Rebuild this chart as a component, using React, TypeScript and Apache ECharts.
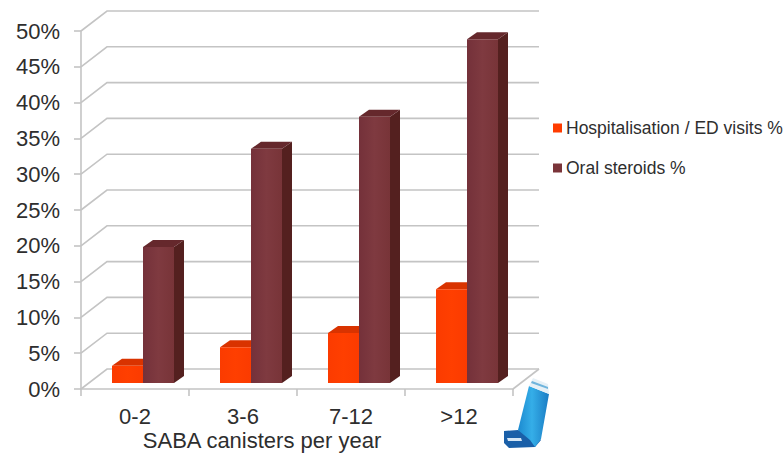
import React, { useEffect, useRef } from "react";
import * as echarts from "echarts";

const categories = ["0-2", "3-6", "7-12", ">12"];
const hospitalisation = [2.4, 5, 7, 13.1];
const oralSteroids = [19, 32.7, 37.2, 48];
const yTicks = [0, 5, 10, 15, 20, 25, 30, 35, 40, 45, 50];

const FONT = '"Liberation Sans", Arial, sans-serif';
const GRID_COLOR = "#c4c4c4";
const TEXT_COLOR = "#2e2e2e";

// Depth of the floor and of the bars, in pixels.
const WALL_DX = 26;
const WALL_DY = -20;
const BAR_DX = 10;
const BAR_DY = -7;
const BAR_WIDTH = 31;
const BAR_LIFT = 6;

type BarPalette = { front: string[]; top: string; side: string };

const orangePalette: BarPalette = {
  front: ["#fb3b00", "#ff3f00", "#fb3b00"],
  top: "#d93300",
  side: "#c22d00",
};
const maroonPalette: BarPalette = {
  front: ["#74313a", "#7f3a40", "#783438"],
  top: "#65282c",
  side: "#54201f",
};

// Draws one extruded bar: front face, top face, right side face.
function barRenderer(palette: BarPalette, startOffset: number) {
  return (_params: any, api: any) => {
    const idx = api.value(0);
    const top = api.coord([idx, api.value(1)]);
    const base = api.coord([idx, 0]);
    const x0 = top[0] + startOffset;
    const x1 = x0 + BAR_WIDTH;
    const yTop = top[1] - BAR_LIFT;
    const yBase = base[1] - BAR_LIFT;
    return {
      type: "group",
      children: [
        {
          type: "polygon",
          shape: {
            points: [
              [x1, yTop],
              [x1 + BAR_DX, yTop + BAR_DY],
              [x1 + BAR_DX, yBase + BAR_DY],
              [x1, yBase],
            ],
          },
          style: { fill: palette.side },
        },
        {
          type: "polygon",
          shape: {
            points: [
              [x0, yTop],
              [x0 + BAR_DX, yTop + BAR_DY],
              [x1 + BAR_DX, yTop + BAR_DY],
              [x1, yTop],
            ],
          },
          style: { fill: palette.top },
        },
        {
          type: "rect",
          shape: { x: x0, y: yTop, width: BAR_WIDTH, height: yBase - yTop },
          style: {
            fill: new echarts.graphic.LinearGradient(0, 0, 1, 0, [
              { offset: 0, color: palette.front[0] },
              { offset: 0.5, color: palette.front[1] },
              { offset: 1, color: palette.front[2] },
            ]),
          },
        },
      ],
    };
  };
}

// Gridline for a tick: runs back across the side wall, then along the rear wall.
function wallRenderer(params: any, api: any) {
  const sys = params.coordSys;
  const y = api.coord([0, api.value(1)])[1];
  const style = { stroke: GRID_COLOR, lineWidth: 1.6, fill: "none" };
  const right = sys.x + sys.width;
  const children: any[] = [
    {
      type: "polyline",
      shape: {
        points: [
          [sys.x, y],
          [sys.x + WALL_DX, y + WALL_DY],
          [right + WALL_DX, y + WALL_DY],
        ],
      },
      style,
    },
  ];
  if (api.value(1) === 0) {
    children.push({
      type: "line",
      shape: { x1: right, y1: y, x2: right + WALL_DX, y2: y + WALL_DY },
      style,
    });
  }
  return { type: "group", children };
}

// Small inhaler pictogram beside the chart's floor.
function inhalerGraphics() {
  return [
    {
      type: "polygon",
      shape: {
        points: [
          [504, 431], [518, 430], [538, 438], [541, 440], [535, 447], [509, 448], [504, 443],
        ],
      },
      style: { fill: "#1a5fa8" },
    },
    {
      type: "polygon",
      shape: { points: [[507, 438], [521, 438], [522, 441], [508, 441]] },
      style: { fill: "#d5e6f5" },
    },
    {
      type: "polygon",
      shape: { points: [[529, 386], [549, 394], [541, 439], [535, 447], [530, 440], [518, 430]] },
      style: {
        fill: new echarts.graphic.LinearGradient(0, 0, 1, 0, [
          { offset: 0, color: "#1c8ad0" },
          { offset: 0.45, color: "#35aee8" },
          { offset: 1, color: "#1a7cc4" },
        ]),
      },
    },
    {
      type: "polygon",
      shape: { points: [[533, 378], [548, 384], [549, 394], [529, 386]] },
      style: { fill: "#e6f0f6" },
    },
    {
      type: "polygon",
      shape: { points: [[532, 381], [548, 387], [548, 389], [531, 383]] },
      style: { fill: "#6fb4dc" },
    },
  ];
}

export default function App() {
  const ref = useRef<HTMLDivElement>(null);

  useEffect(() => {
    const chart = echarts.init(ref.current!, undefined, { renderer: "svg" });
    const categoryIndex = categories.map((_, i) => i);
    chart.setOption({
      animation: false,
      backgroundColor: "#ffffff",
      grid: { left: 81, right: 271, top: 31, bottom: 64, outerBoundsMode: "none" },
      legend: {
        left: 548,
        top: 114,
        orient: "vertical",
        icon: "rect",
        itemWidth: 9,
        itemHeight: 9,
        itemGap: 22,
        data: ["Hospitalisation / ED visits %", "Oral steroids %"],
        textStyle: { fontFamily: FONT, fontSize: 17.5, color: TEXT_COLOR, padding: [0, 0, 0, -1] },
      },
      xAxis: {
        type: "category",
        data: categories,
        axisLine: { lineStyle: { color: GRID_COLOR, width: 1.6 } },
        axisTick: { show: true, length: 7, alignWithLabel: false, lineStyle: { color: GRID_COLOR, width: 1.6 } },
        axisLabel: { fontFamily: FONT, fontSize: 22, color: TEXT_COLOR, margin: 16 },
        name: "SABA canisters per year",
        nameLocation: "middle",
        nameGap: 40,
        nameMoveOverlap: false,
        nameTextStyle: { fontFamily: FONT, fontSize: 22, color: TEXT_COLOR, padding: [0, 70, 0, 0] },
      },
      yAxis: {
        type: "value",
        min: 0,
        max: 50,
        interval: 5,
        axisLine: { show: true, lineStyle: { color: GRID_COLOR, width: 1.6 } },
        axisTick: { show: true, length: 7, lineStyle: { color: GRID_COLOR, width: 1.6 } },
        splitLine: { show: false },
        axisLabel: { fontFamily: FONT, fontSize: 22, color: TEXT_COLOR, margin: 21, formatter: "{value}%" },
      },
      series: [
        {
          name: "walls",
          type: "custom",
          renderItem: wallRenderer,
          data: yTicks.map((t) => [0, t]),
          silent: true,
          z: 1,
        },
        {
          name: "Hospitalisation / ED visits %",
          type: "custom",
          renderItem: barRenderer(orangePalette, -23),
          data: categoryIndex.map((i) => [i, hospitalisation[i]]),
          itemStyle: { color: "#ff3c00" },
          z: 3,
        },
        {
          name: "Oral steroids %",
          type: "custom",
          renderItem: barRenderer(maroonPalette, 8),
          data: categoryIndex.map((i) => [i, oralSteroids[i]]),
          itemStyle: { color: "#7a3439" },
          z: 4,
        },
      ],
      graphic: { elements: inhalerGraphics() },
    });
    return () => chart.dispose();
  }, []);

  return (
    <div
      ref={ref}
      style={{ position: "fixed", left: 0, top: 0, width: 784, height: 453 }}
    />
  );
}
